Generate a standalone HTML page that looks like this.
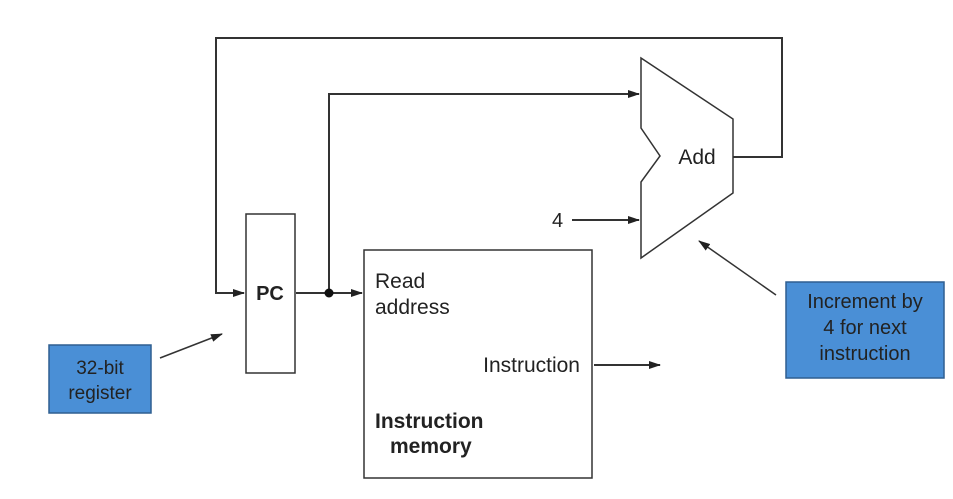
<!DOCTYPE html>
<html><head><meta charset="utf-8"><style>
body{margin:0;background:#fff}
svg{display:block}
text{font-family:"Liberation Sans",sans-serif;fill:#222}
</style></head><body>
<svg width="953" height="499" viewBox="0 0 953 499" xmlns="http://www.w3.org/2000/svg">
<defs><marker id="a" markerWidth="12" markerHeight="8" refX="11" refY="4" orient="auto" markerUnits="userSpaceOnUse"><path d="M0,0 L12,4 L0,8 z" fill="#222"/></marker></defs>
<g stroke="#333" fill="none" stroke-width="2">
<polyline points="733,157 782,157 782,38 216,38 216,293 244,293" marker-end="url(#a)"/>
<line x1="296" y1="293" x2="362" y2="293" marker-end="url(#a)"/>
<polyline points="329,293 329,94 639,94" marker-end="url(#a)"/>
<line x1="572" y1="220" x2="639" y2="220" marker-end="url(#a)"/>
<line x1="594" y1="365" x2="660" y2="365" marker-end="url(#a)"/>
</g>
<g stroke="#333" stroke-width="1.5" fill="none">
<line x1="160" y1="358" x2="222" y2="334" marker-end="url(#a)"/>
<line x1="776" y1="295" x2="699" y2="241" marker-end="url(#a)"/>
<rect x="246" y="214" width="49" height="159"/>
<rect x="364" y="250" width="228" height="228"/>
<polygon points="641,58 733,119 733,193 641,258 641,182 660,156 641,128"/>
</g>
<circle cx="329" cy="293" r="4.5" fill="#111"/>
<text x="270" y="300" font-size="20" font-weight="bold" text-anchor="middle">PC</text>
<text x="697" y="164" font-size="21" text-anchor="middle">Add</text>
<text x="552" y="227" font-size="20">4</text>
<text x="375" y="288" font-size="21">Read</text>
<text x="375" y="314" font-size="21">address</text>
<text x="580" y="372" font-size="21" text-anchor="end">Instruction</text>
<text x="375" y="428" font-size="21" font-weight="bold">Instruction</text>
<text x="390" y="453" font-size="21" font-weight="bold">memory</text>
<rect x="49" y="345" width="102" height="68" fill="#4a8fd6" stroke="#2f5f90" stroke-width="1.5"/>
<text x="100" y="374" font-size="19" text-anchor="middle">32-bit</text>
<text x="100" y="399" font-size="19" text-anchor="middle">register</text>
<rect x="786" y="282" width="158" height="96" fill="#4a8fd6" stroke="#2f5f90" stroke-width="1.5"/>
<text x="865" y="308" font-size="20" text-anchor="middle">Increment by</text>
<text x="865" y="334" font-size="20" text-anchor="middle">4 for next</text>
<text x="865" y="360" font-size="20" text-anchor="middle">instruction</text>
</svg>
</body></html>
